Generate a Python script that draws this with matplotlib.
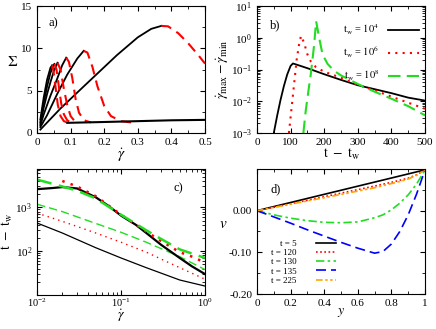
import numpy as np
import matplotlib
matplotlib.use("Agg")
import matplotlib.pyplot as plt
from matplotlib.ticker import MultipleLocator, LogLocator, NullFormatter

plt.rcParams['font.family'] = ['Liberation Serif', 'DejaVu Serif']
plt.rcParams['mathtext.fontset'] = 'stix'
plt.rcParams['xtick.direction'] = 'in'
plt.rcParams['ytick.direction'] = 'in'
plt.rcParams['xtick.top'] = True
plt.rcParams['ytick.right'] = True
plt.rcParams['font.size'] = 8

# ---- panel a: stress vs shear rate, rising (black) and falling (red) parts
a_rise = [
    ([0.01, 0.02, 0.03, 0.04, 0.045], [1.6, 4.2, 6.3, 7.7, 8.0]),
    ([0.01, 0.02, 0.03, 0.04, 0.05, 0.052], [1.3, 3.6, 5.5, 7.1, 8.1, 8.15]),
    ([0.01, 0.02, 0.03, 0.04, 0.05, 0.061], [1.1, 3.0, 4.6, 6.0, 7.3, 8.3]),
    ([0.01, 0.02, 0.04, 0.06, 0.075, 0.087], [0.9, 2.2, 4.4, 6.4, 8.0, 8.9]),
    ([0.01, 0.03, 0.06, 0.09, 0.12, 0.139], [0.7, 2.1, 4.6, 6.9, 8.8, 9.7]),
    ([0.01, 0.07, 0.139, 0.238, 0.3, 0.34, 0.37], [0.4, 2.9, 5.5, 9.2, 11.3, 12.3, 12.65]),
]
a_fall = [
    ([0.045, 0.048, 0.055, 0.062, 0.07, 0.08, 0.09], [8.0, 7.6, 5.5, 3.3, 2.0, 1.4, 1.25]),
    ([0.052, 0.058, 0.065, 0.072, 0.08, 0.09, 0.1], [8.15, 7.5, 5.5, 3.5, 2.2, 1.5, 1.25]),
    ([0.061, 0.07, 0.08, 0.09, 0.1, 0.11, 0.12], [8.3, 7.5, 5.2, 3.3, 2.0, 1.5, 1.25]),
    ([0.087, 0.095, 0.105, 0.115, 0.125, 0.14, 0.16], [8.9, 8.4, 6.5, 4.0, 2.4, 1.5, 1.25]),
    ([0.139, 0.15, 0.165, 0.18, 0.2, 0.22, 0.25, 0.28], [9.7, 9.5, 7.8, 5.5, 3.2, 2.0, 1.4, 1.25]),
    ([0.37, 0.39, 0.42, 0.45, 0.48, 0.5], [12.65, 12.6, 11.8, 10.6, 9.2, 8.2]),
]
a_flat_x = [0.09, 0.2, 0.3, 0.4, 0.5]
a_flat_y = [1.2, 1.3, 1.4, 1.5, 1.55]

# ---- panel b: rate difference vs time
b_t4_x = [50, 60, 70, 80, 90, 100, 107, 120, 150, 200, 250, 300, 350, 400, 450, 500]
b_t4_y = [1e-3, 3.5e-3, 0.011, 0.03, 0.07, 0.13, 0.155, 0.14, 0.11, 0.071, 0.047,
          0.032, 0.024, 0.018, 0.013, 0.0105]
b_t6_x = [95, 105, 112, 118, 125, 131, 140, 150, 160, 175, 200, 250, 300, 350, 400, 450, 500]
b_t6_y = [1e-3, 0.01, 0.05, 0.2, 0.6, 1.15, 0.7, 0.3, 0.18, 0.12, 0.085, 0.055,
          0.033, 0.022, 0.014, 0.009, 0.0058]
b_t8_x = [138, 145, 155, 160, 165, 170, 176, 185, 195, 210, 230, 250, 300, 350, 400, 450, 500]
b_t8_y = [1e-3, 0.005, 0.03, 0.07, 0.2, 0.6, 3.3, 1.0, 0.3, 0.15, 0.09, 0.065,
          0.035, 0.02, 0.012, 0.007, 0.0036]
b_labels = [r'$\mathrm{t_w}$ = $10^4$', r'$\mathrm{t_w}$ = $10^6$', r'$\mathrm{t_w}$ = $10^8$']

# ---- panel c: time vs shear rate (log-log)
c_thick_k_x = [0.01, 0.015, 0.02, 0.03, 0.05, 0.07, 0.1, 0.15, 0.2, 0.3, 0.5, 0.7, 1.0]
c_thick_k_y = [2600, 2750, 2900, 2700, 1700, 1100, 650, 400, 260, 140, 70, 45, 30]
c_thick_r_x = [0.02, 0.03, 0.05, 0.1, 0.2, 0.3, 0.5, 0.7, 1.0]
c_thick_r_y = [4000, 3000, 1800, 680, 280, 170, 95, 75, 55]
c_thick_g_x = [0.01, 0.02, 0.03, 0.05, 0.1, 0.2, 0.3, 0.5, 1.0]
c_thick_g_y = [4300, 3000, 2400, 1600, 680, 300, 190, 110, 70]
c_thin_g_x = [0.01, 0.02, 0.05, 0.1, 0.2, 0.5, 1.0]
c_thin_g_y = [1180, 800, 430, 270, 160, 75, 38]
c_thin_r_x = [0.01, 0.02, 0.05, 0.1, 0.2, 0.5, 1.0]
c_thin_r_y = [740, 480, 260, 160, 95, 42, 23]
c_thin_k_x = [0.01, 0.02, 0.05, 0.1, 0.2, 0.5, 1.0]
c_thin_k_y = [440, 260, 120, 70, 42, 22, 16]

# ---- panel d: velocity profiles
d_y = [0.0, 0.1, 0.2, 0.3, 0.4, 0.5, 0.6, 0.7, 0.75, 0.8, 0.85, 0.9, 0.95, 1.0]
d_t5 = [0.0, 0.0098, 0.0196, 0.0294, 0.0392, 0.049, 0.0588, 0.0686, 0.0735, 0.0784,
        0.0833, 0.0882, 0.0931, 0.098]
d_t120 = [0.0, 0.0082, 0.0165, 0.025, 0.0335, 0.042, 0.0505, 0.059, 0.0635, 0.068,
          0.073, 0.078, 0.086, 0.098]
d_t130 = [0.0, -0.01, -0.018, -0.024, -0.028, -0.029, -0.027, -0.017, -0.010, 0.002,
          0.018, 0.038, 0.064, 0.098]
d_t135 = [0.0, -0.015, -0.03, -0.046, -0.061, -0.076, -0.09, -0.102, -0.098, -0.08,
          -0.05, -0.01, 0.04, 0.098]
d_t225 = [0.0, 0.0078, 0.0155, 0.0235, 0.031, 0.039, 0.047, 0.055, 0.06, 0.065,
          0.07, 0.076, 0.085, 0.098]
d_labels = ['t = 5', 't = 120', 't = 130', 't = 135', 't = 225']

W, H = 436, 329
fig = plt.figure(figsize=(W / 100, H / 100), dpi=100)


def box(l, t, r, b):
    return [l / W, 1 - b / H, (r - l) / W, (b - t) / H]


gdot = r'$\dot{\gamma}$'

# panel a
ax = fig.add_axes(box(37, 6, 205, 133))
for x, y in a_rise:
    ax.plot(x, y, color='black', lw=1.3)
for x, y in a_fall:
    ax.plot(x, y, color='red', lw=1.5, ls=(0, (5, 3)))
ax.plot(a_flat_x, a_flat_y, color='black', lw=1.5)
ax.set_xlim(0, 0.5)
ax.set_ylim(0, 15)
ax.set_xticks([0, 0.1, 0.2, 0.3, 0.4, 0.5])
ax.set_xticklabels(['0', '0.1', '0.2', '0.3', '0.4', '0.5'])
ax.xaxis.set_minor_locator(MultipleLocator(0.05))
ax.set_yticks([0, 5, 10, 15])
ax.set_yticklabels(['0', '5', '10', '15'])
ax.yaxis.set_minor_locator(MultipleLocator(2.5))
ax.set_xlabel(gdot, fontsize=11, labelpad=0)
ax.set_ylabel(r'$\Sigma$', fontsize=11, rotation=0, labelpad=6)
ax.text(0.07, 0.86, 'a)', transform=ax.transAxes, fontsize=9, va='center')

# panel b
ax = fig.add_axes(box(257, 6, 425, 133))
ax.plot(b_t4_x, b_t4_y, color='black', lw=1.3, label=b_labels[0])
ax.plot(b_t6_x, b_t6_y, color='red', lw=1.5, ls=(0, (1, 2.5)), label=b_labels[1])
ax.plot(b_t8_x, b_t8_y, color='#22dd22', lw=1.5, ls=(0, (6, 3)), label=b_labels[2])
ax.set_yscale('log')
ax.set_xlim(0, 500)
ax.set_ylim(1e-3, 10)
ax.set_xticks([0, 100, 200, 300, 400, 500])
ax.xaxis.set_minor_locator(MultipleLocator(50))
ax.yaxis.set_minor_locator(LogLocator(base=10, subs=np.arange(2, 10)))
ax.yaxis.set_minor_formatter(NullFormatter())
ax.set_xlabel(r'$\mathrm{t\ -\ t_w}$', fontsize=10, labelpad=0)
ax.set_ylabel(r'$\dot{\gamma}_{\mathrm{max}} - \dot{\gamma}_{\mathrm{min}}$', fontsize=10, labelpad=0)
ax.text(0.08, 0.85, 'b)', transform=ax.transAxes, fontsize=9, va='center')
ax.legend(loc='upper right', bbox_to_anchor=(1.0, 0.92), frameon=False, markerfirst=False,
          fontsize=7.5, handlelength=3.0, labelspacing=0.8, borderaxespad=0.2)

# panel c
ax = fig.add_axes(box(37, 169, 205, 295))
ax.plot(c_thin_k_x, c_thin_k_y, color='black', lw=0.9)
ax.plot(c_thin_r_x, c_thin_r_y, color='red', lw=1.0, ls=(0, (1, 3)))
ax.plot(c_thin_g_x, c_thin_g_y, color='#22dd22', lw=1.0, ls=(0, (6, 3)))
ax.plot(c_thick_k_x, c_thick_k_y, color='black', lw=1.6)
ax.plot(c_thick_r_x, c_thick_r_y, color='red', lw=1.8, ls=(0, (1, 2.5)))
ax.plot(c_thick_g_x, c_thick_g_y, color='#22dd22', lw=1.8, ls=(0, (6, 3)))
ax.set_xscale('log')
ax.set_yscale('log')
ax.set_xlim(1e-2, 1)
ax.set_ylim(10, 7500)
ax.xaxis.set_minor_locator(LogLocator(base=10, subs=np.arange(2, 10)))
ax.yaxis.set_minor_locator(LogLocator(base=10, subs=np.arange(2, 10)))
ax.xaxis.set_minor_formatter(NullFormatter())
ax.yaxis.set_minor_formatter(NullFormatter())
ax.set_yticks([100, 1000])
ax.tick_params(axis='x', which='major', pad=1.5, labelsize=7.5)
ax.set_xlabel(gdot, fontsize=10, labelpad=0)
ax.xaxis.set_label_coords(0.5, -0.105)
ax.set_ylabel(r'$\mathrm{t\ -\ t_w}$', fontsize=10, labelpad=0)
ax.text(0.81, 0.85, 'c)', transform=ax.transAxes, fontsize=9, va='center')

# panel d
ax = fig.add_axes(box(257, 169, 425, 294))
ax.plot(d_y, d_t5, color='black', lw=1.2, label=d_labels[0])
ax.plot(d_y, d_t120, color='red', lw=1.2, ls=(0, (1, 1.5)), label=d_labels[1])
ax.plot(d_y, d_t130, color='#22dd22', lw=1.2, ls=(0, (5, 2, 1.5, 2)), label=d_labels[2])
ax.plot(d_y, d_t135, color='blue', lw=1.2, ls=(0, (6, 3)), label=d_labels[3])
ax.plot(d_y, d_t225, color='orange', lw=1.2, ls=(0, (4, 1.5, 1.5, 1.5, 1.5, 1.5)), label=d_labels[4])
ax.set_xlim(0, 1)
ax.set_ylim(-0.2, 0.1)
ax.set_xticks([0, 0.2, 0.4, 0.6, 0.8, 1.0])
ax.set_xticklabels(['0', '0.2', '0.4', '0.6', '0.8', '1'])
ax.xaxis.set_minor_locator(MultipleLocator(0.1))
ax.set_yticks([-0.2, -0.1, 0.0])
ax.set_yticklabels(['-0.20', '-0.10', '0.00'])
ax.yaxis.set_minor_locator(MultipleLocator(0.05))
ax.set_xlabel(r'$y$', fontsize=10, labelpad=-1)
ax.set_ylabel(r'$v$', fontsize=11, rotation=0, labelpad=4)
ax.text(0.08, 0.84, 'd)', transform=ax.transAxes, fontsize=9, va='center')
ax.legend(loc='lower left', bbox_to_anchor=(0.05, 0.03), frameon=False, markerfirst=False,
          fontsize=6.5, handlelength=2.2, labelspacing=0.1, borderaxespad=0.2, handletextpad=2.2)

fig.savefig('out.png', dpi=100)
